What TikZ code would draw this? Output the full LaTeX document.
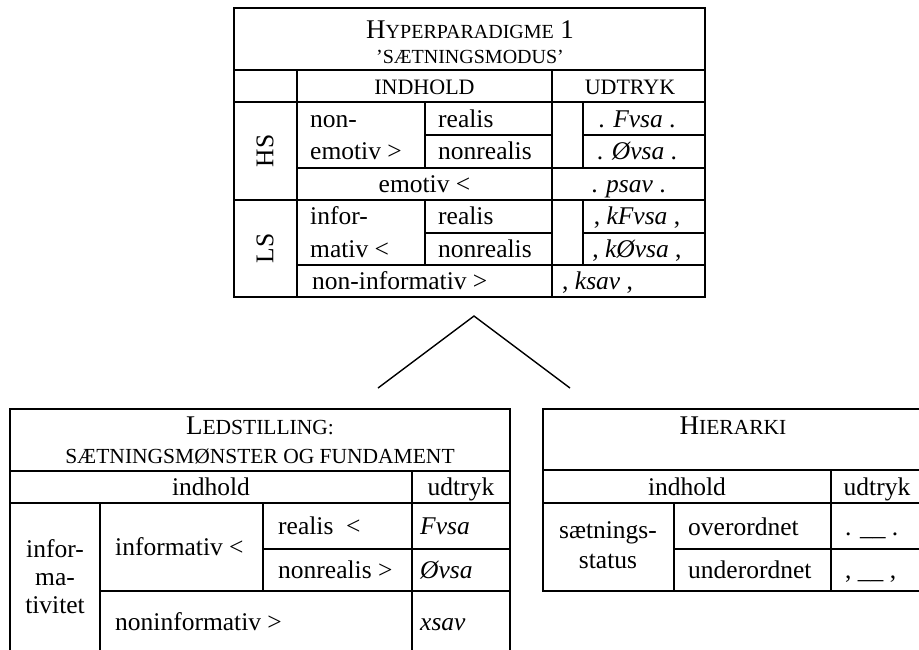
\documentclass[tikz,border=0pt]{standalone}
\usepackage{fontspec}
\setmainfont{Liberation Serif}
\newcommand{\tbig}[1]{{\fontsize{27}{30}\selectfont #1}}
\newcommand{\tsc}[1]{{\fontsize{20}{23}\selectfont #1}}
\newcommand{\hsc}[1]{{\fontsize{22}{25}\selectfont #1}}
\newcommand{\bsc}[1]{{\fontsize{21.5}{24}\selectfont #1}}
\begin{document}
\begin{tikzpicture}[x=1pt,y=-1pt,
  grid/.style={line width=1.8pt},
  txt/.style={inner sep=0pt, anchor=base, font=\fontsize{25.5}{28}\selectfont},
  ltxt/.style={txt, anchor=base west}]
\useasboundingbox (0,0) rectangle (919,649);
\clip (0,0) rectangle (919,649);
% ---------- top table ----------
\draw[grid] (234,8) rectangle (705,297);
\draw[grid] (234,70) -- (705,70);
\draw[grid] (234,102) -- (705,102);
\draw[grid] (297,70) -- (297,297);
\draw[grid] (552,70) -- (552,297);
\draw[grid] (425,102) -- (425,168);
\draw[grid] (425,200) -- (425,265);
\draw[grid] (583,102) -- (583,168);
\draw[grid] (583,200) -- (583,265);
\draw[grid] (425,135) -- (552,135) (583,135) -- (705,135);
\draw[grid] (297,168) -- (705,168);
\draw[grid] (234,200) -- (705,200);
\draw[grid] (425,233) -- (552,233) (583,233) -- (705,233);
\draw[grid] (297,265) -- (705,265);
\node[txt] (t1) at (470,38) {\tbig{H}\tsc{YPERPARADIGME} \tbig{1}};
\node[txt] (t2) at (470,63) {\tsc{’SÆTNINGSMODUS’}};
\node[txt] (hi) at (424.5,94) {\hsc{INDHOLD}};
\node[txt] (hu) at (630,94) {\hsc{UDTRYK}};
\node[txt, rotate=90, anchor=center] (hs) at (265,151) {HS};
\node[txt, rotate=90, anchor=center] (ls) at (265,248.5) {LS};
\node[ltxt] (ne1) at (310,127) {non-};
\node[ltxt] (ne2) at (310,159) {emotiv >};
\node[ltxt] (r1) at (438,127) {realis};
\node[ltxt] (nr1) at (438,159) {nonrealis};
\node[txt] (u1) at (637,127) {. \textit{Fvsa} .};
\node[txt] (u2) at (637,159) {. \textit{Øvsa} .};
\node[txt] (em) at (424.5,192) {emotiv <};
\node[txt] (ps) at (628.5,192) {. \textit{psav} .};
\node[ltxt] (if1) at (310,224) {infor-};
\node[ltxt] (if2) at (310,257) {mativ <};
\node[ltxt] (r2) at (438,224) {realis};
\node[ltxt] (nr2) at (438,257) {nonrealis};
\node[txt] (u3) at (637,224) {, \textit{kFvsa} ,};
\node[txt] (u4) at (637,257) {, \textit{kØvsa} ,};
\node[ltxt] (ni) at (312,289) {non-informativ >};
\node[ltxt] (ks) at (562,289) {, \textit{ksav} ,};
% ---------- connector ----------
\coordinate (apex) at (474,316);
\coordinate (tl) at (378,388);
\coordinate (tr) at (570,388);
\draw[line width=1.4pt] (tl) -- (apex) -- (tr);
% ---------- bottom left table ----------
\draw[grid] (10,660) -- (10,409) -- (510,409) -- (510,660);
\draw[grid] (10,471) -- (510,471);
\draw[grid] (10,503) -- (510,503);
\draw[grid] (412,471) -- (412,660);
\draw[grid] (100,503) -- (100,660);
\draw[grid] (263,503) -- (263,591);
\draw[grid] (263,549) -- (510,549);
\draw[grid] (100,591) -- (510,591);
\node[txt] (lt1) at (260,434) {\tbig{L}\bsc{EDSTILLING:}};
\node[txt] (lt2) at (260,463) {\bsc{SÆTNINGSMØNSTER OG FUNDAMENT}};
\node[txt] (li) at (211,495) {indhold};
\node[txt] (lu) at (461,495) {udtryk};
\node[txt] (lf1) at (55,557) {infor-};
\node[txt] (lf2) at (55,585) {ma-};
\node[txt] (lf3) at (55,613) {tivitet};
\node[ltxt] (lin) at (115,555) {informativ <};
\node[ltxt] (lr) at (278,534) {realis\ \ <};
\node[ltxt] (lnr) at (278,578) {nonrealis >};
\node[ltxt] (lfv) at (420,534) {\textit{Fvsa}};
\node[ltxt] (lov) at (420,578) {\textit{Øvsa}};
\node[ltxt] (lni) at (115,630) {noninformativ >};
\node[ltxt] (lxs) at (420,630) {\textit{xsav}};
% ---------- bottom right table ----------
\draw[grid] (543,409) rectangle (925,591);
\draw[grid] (543,470) -- (925,470);
\draw[grid] (543,503) -- (925,503);
\draw[grid] (674,503) -- (674,591);
\draw[grid] (831,470) -- (831,591);
\draw[grid] (674,549) -- (925,549);
\node[txt] (rt) at (733,434) {\tbig{H}\bsc{IERARKI}};
\node[txt] (ri) at (687,495) {indhold};
\node[txt] (ru) at (877,495) {udtryk};
\node[txt] (rs1) at (608,538) {sætnings-};
\node[txt] (rs2) at (608,568) {status};
\node[ltxt] (ro) at (688,535) {overordnet};
\node[ltxt] (run) at (688,578) {underordnet};
\node[ltxt] (rd1) at (845,535) {. \_\_ .};
\node[ltxt] (rd2) at (845,578) {, \_\_ ,};
\end{tikzpicture}
\end{document}
